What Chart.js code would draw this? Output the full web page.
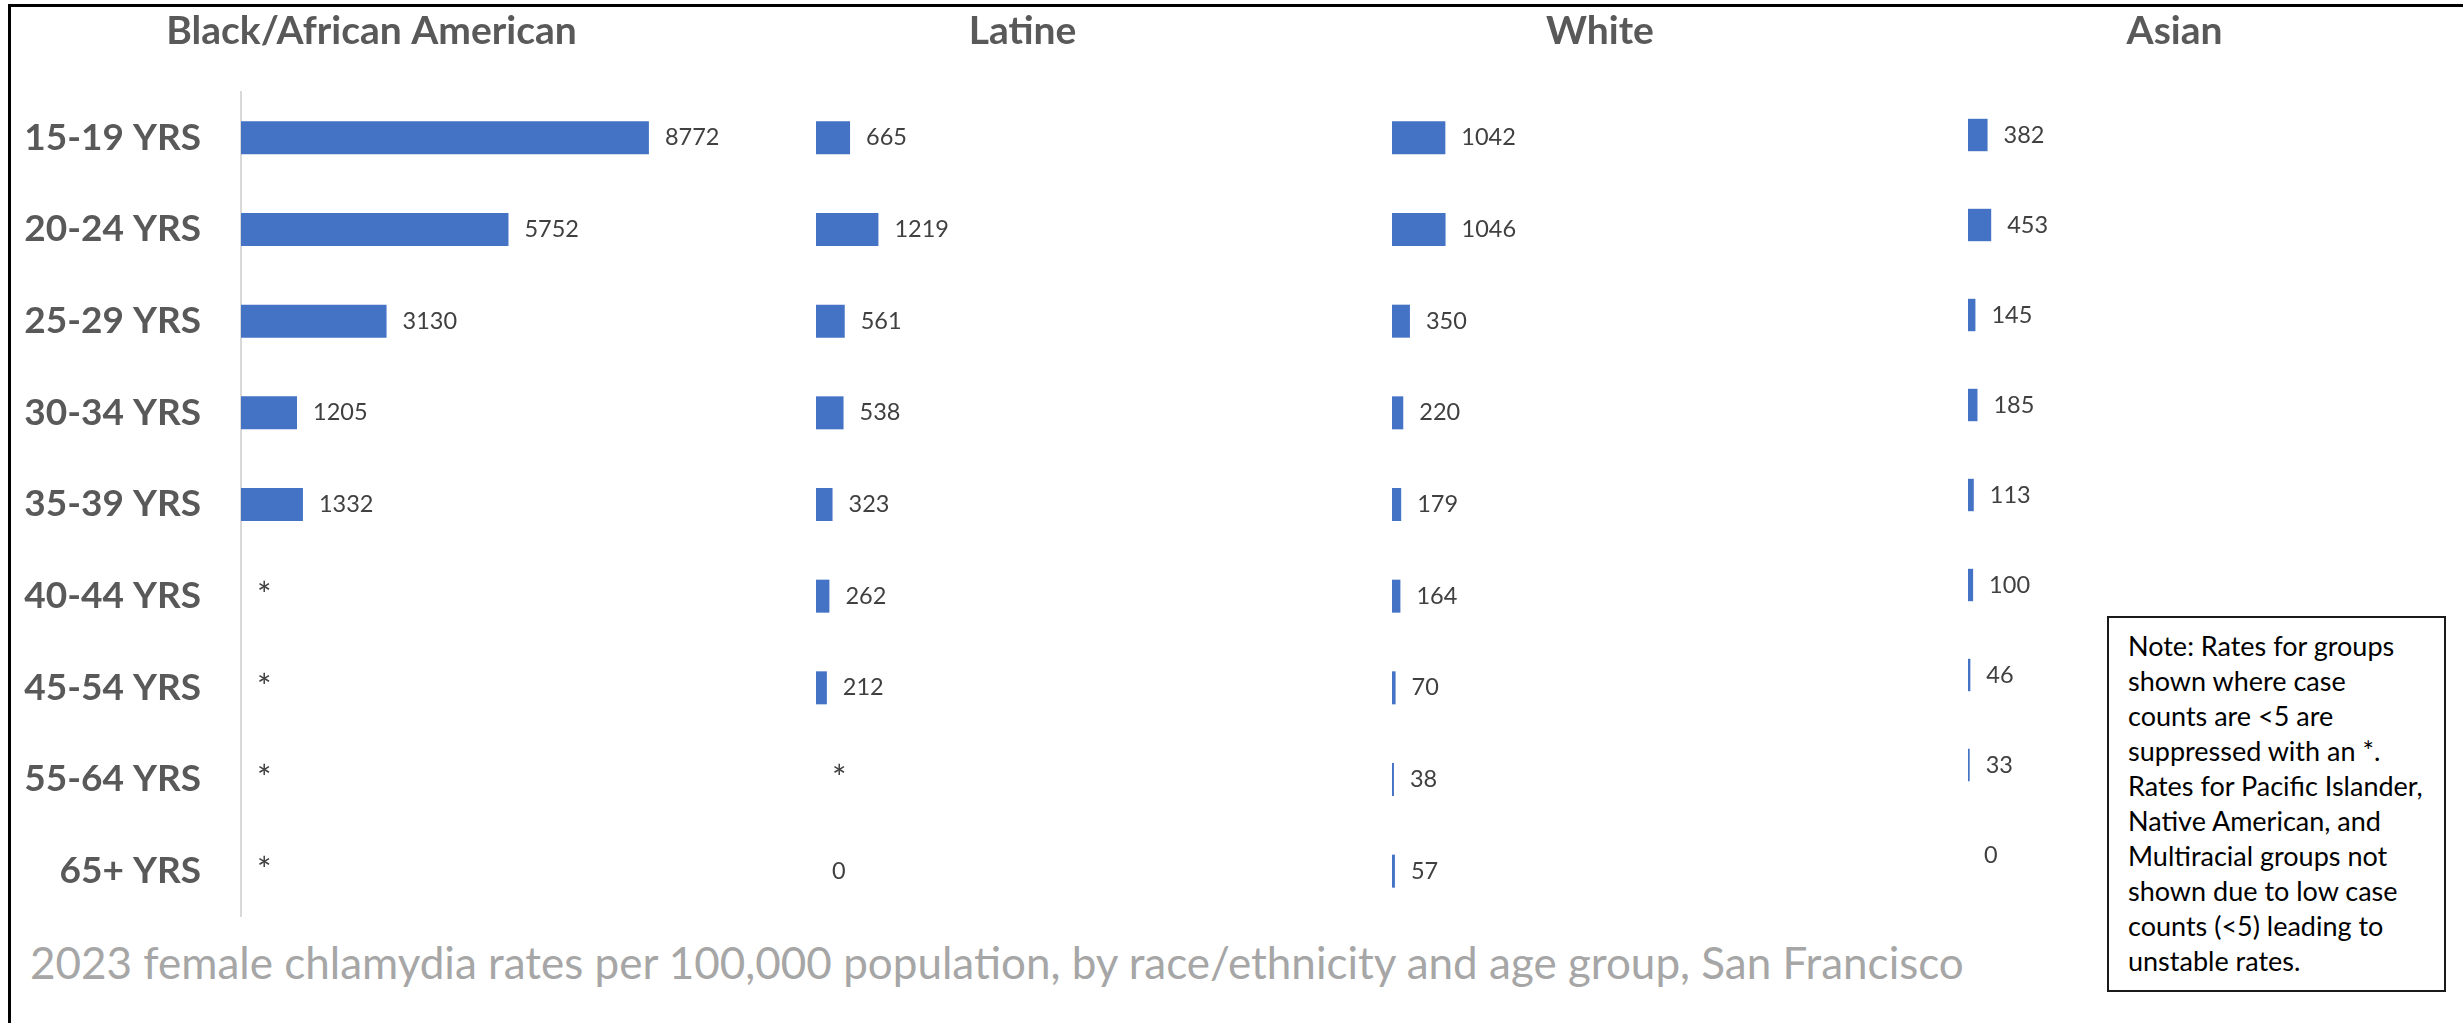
<!DOCTYPE html>
<html>
<head>
<meta charset="utf-8">
<title>Female chlamydia rates by race/ethnicity and age group</title>
<script src="https://cdn.jsdelivr.net/npm/chart.js@4.4.1/dist/chart.umd.min.js"></script>
<style>
  html, body { margin: 0; padding: 0; background: #fff; overflow: hidden; }
  body { width: 2463px; height: 1023px; position: relative; font-family: Lato, sans-serif; }
  .frame { position: absolute; left: 8px; top: 4px; right: -20px; bottom: -20px;
           border-top: 3px solid #000; border-left: 3px solid #000; }
  canvas { position: absolute; top: 0; }
  #caption { position: absolute; left: 30px; top: 940px; font-size: 44px; line-height: 44px;
             color: #a6a6a6; white-space: nowrap; }
  #note { position: absolute; left: 2107px; top: 616px; width: 339px; height: 376px; box-sizing: border-box;
          border: 2px solid #1a1a1a; background: #fff; padding: 10px 0 0 19px;
          font-size: 27px; line-height: 35px; color: #000; white-space: nowrap; }
</style>
</head>
<body>
<div class="frame"></div>
<canvas id="black"></canvas>
<canvas id="latine"></canvas>
<canvas id="white"></canvas>
<canvas id="asian"></canvas>
<div id="caption">2023 female chlamydia rates per 100,000 population, by race/ethnicity and age group, San Francisco</div>
<div id="note">Note: Rates for groups<br>shown where case<br>counts are &lt;5 are<br>suppressed with an *.<br>Rates for Pacific Islander,<br>Native American, and<br>Multiracial groups not<br>shown due to low case<br>counts (&lt;5) leading to<br>unstable rates.</div>
<script>
// rates per 100,000; null = suppressed (fewer than 5 cases)
const ageGroups = ['15-19 YRS', '20-24 YRS', '25-29 YRS', '30-34 YRS', '35-39 YRS',
                   '40-44 YRS', '45-54 YRS', '55-64 YRS', '65+ YRS'];
const races = ['Black/African American', 'Latine', 'White', 'Asian'];
const blackRates = [8772, 5752, 3130, 1205, 1332, null, null, null, null];
const latineRates = [665, 1219, 561, 538, 323, 262, 212, null, 0];
const whiteRates = [1042, 1046, 350, 220, 179, 164, 70, 38, 57];
const asianRates = [382, 453, 145, 185, 113, 100, 46, 33, 0];
const axisMax = 10000;

const BAR = '#4472C4';
const GREY = '#595959';

// one small chart per race group, side by side.
// axisW = room left of the bars, plotW = bar area, padRight = room after it
const panels = [
  { id: 'black',  title: races[0], rates: blackRates,  left: 12,   axisW: 229, plotW: 465, padRight: 25, height: 917, titleGap: 36.7, ticks: true },
  { id: 'latine', title: races[1], rates: latineRates, left: 717,  axisW: 99,  plotW: 512, padRight: 0,  height: 917, titleGap: 36.7, ticks: false },
  { id: 'white',  title: races[2], rates: whiteRates,  left: 1296, axisW: 96,  plotW: 512, padRight: 0,  height: 917, titleGap: 36.7, ticks: false },
  { id: 'asian',  title: races[3], rates: asianRates,  left: 1869, axisW: 99,  plotW: 512, padRight: 0,  height: 900, titleGap: 34.7, ticks: false }
];

// value next to the end of each bar, "*" where suppressed
const valueLabels = {
  id: 'valueLabels',
  afterDatasetsDraw(chart) {
    const { ctx, scales: { x, y } } = chart;
    const values = chart.data.datasets[0].data;
    ctx.save();
    ctx.fillStyle = '#404040';
    ctx.textAlign = 'left';
    ctx.textBaseline = 'middle';
    values.forEach((v, i) => {
      const px = x.getPixelForValue(v ?? 0) + 16;
      const py = y.getPixelForValue(i);
      if (v === null) {
        ctx.font = '34px Lato';
        ctx.fillText('*', px, py);
      } else {
        ctx.font = '23.5px Lato';
        ctx.fillText(String(v), px, py);
      }
    });
    ctx.restore();
  }
};

const fixedWidth = (w) => (scale) => {
  scale.width = w;
  scale.paddingTop = 0;
  scale.paddingBottom = 0;
};

panels.forEach(p => {
  const canvas = document.getElementById(p.id);
  const width = p.axisW + p.plotW + p.padRight;
  canvas.width = width;
  canvas.height = p.height;
  canvas.style.left = p.left + 'px';
  canvas.style.width = width + 'px';
  canvas.style.height = p.height + 'px';

  const scales = {
    x: { display: false, min: 0, max: axisMax },
    y: {
      grid: { display: false, drawTicks: false },
      border: { display: p.ticks, color: '#d9d9d9', width: 2 },
      ticks: { display: p.ticks, color: GREY, padding: 40, font: { family: 'Lato', weight: 'bold', size: 37 } },
      afterFit: fixedWidth(p.axisW)
    }
  };
  if (p.padRight > 0) {
    scales.yRoom = {
      type: 'category',
      position: 'right',
      grid: { display: false, drawTicks: false },
      border: { display: false },
      ticks: { display: false },
      afterFit: fixedWidth(p.padRight)
    };
  }

  new Chart(canvas, {
    type: 'bar',
    data: {
      labels: ageGroups,
      datasets: [{
        data: p.rates,
        backgroundColor: BAR,
        barPercentage: 0.36,
        categoryPercentage: 1
      }]
    },
    options: {
      indexAxis: 'y',
      responsive: false,
      animation: false,
      devicePixelRatio: 1,
      layout: { padding: 0 },
      scales,
      plugins: {
        legend: { display: false },
        tooltip: { enabled: false },
        title: {
          display: true,
          text: p.title,
          color: GREY,
          font: { family: 'Lato', weight: 'bold', size: 39, lineHeight: 1.2 },
          padding: { top: 8.5, bottom: p.titleGap }
        }
      }
    },
    plugins: [valueLabels]
  });
});
</script>
</body>
</html>
